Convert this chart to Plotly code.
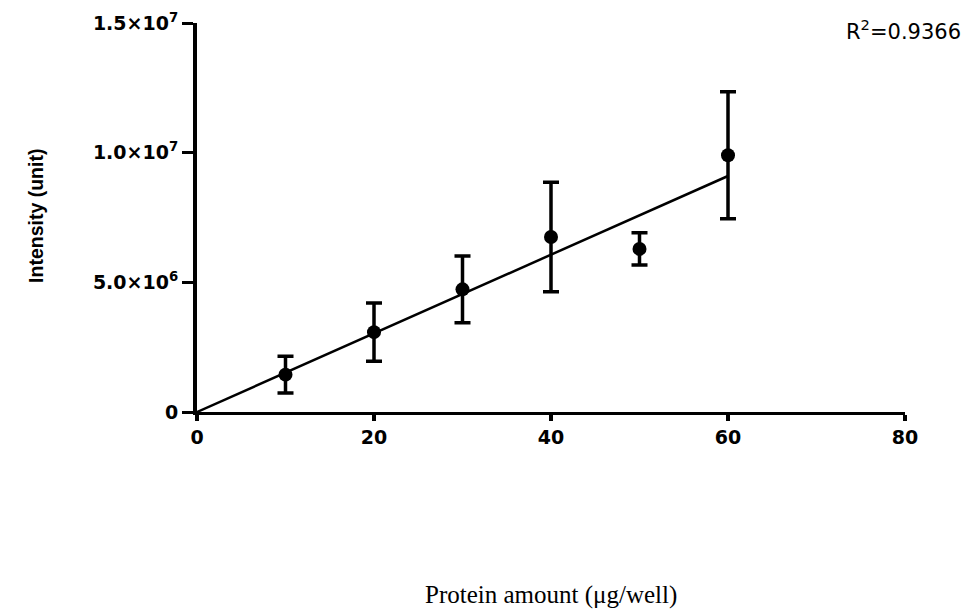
import plotly.graph_objects as go

protein_ug = [10, 20, 30, 40, 50, 60]
intensity = [1.44e6, 3.08e6, 4.73e6, 6.75e6, 6.29e6, 9.90e6]
sem = [0.71e6, 1.12e6, 1.29e6, 2.11e6, 0.62e6, 2.45e6]
fit_x = [0, 60]
fit_y = [0, 9.10e6]
r_squared = "0.9366"

x_ticks = [0, 20, 40, 60, 80]
y_ticks = [0, 5e6, 1e7, 1.5e7]
y_ticktext = ["0", "5.0×10<sup>6</sup>", "1.0×10<sup>7</sup>", "1.5×10<sup>7</sup>"]

fig = go.Figure()
fig.add_trace(go.Scatter(
    x=fit_x, y=fit_y, mode="lines",
    line=dict(color="black", width=2.5), showlegend=False, hoverinfo="skip"))
fig.add_trace(go.Scatter(
    x=protein_ug, y=intensity, mode="markers",
    marker=dict(color="black", size=14, symbol="circle"),
    error_y=dict(type="data", array=sem, color="black", thickness=3.5, width=8),
    showlegend=False))

tickfont = dict(family="DejaVu Sans, Arial, sans-serif", size=19, color="black", weight="bold")
fig.update_layout(
    width=966, height=602,
    margin=dict(l=189, r=69, t=15, b=198),
    plot_bgcolor="white", paper_bgcolor="white",
    xaxis=dict(range=[0, 80], tickvals=x_ticks, showgrid=False, zeroline=False,
               showline=True, linecolor="black", linewidth=2.5, automargin=False,
               ticks="outside", ticklen=6, tickwidth=4, tickcolor="black",
               tickfont=tickfont),
    yaxis=dict(range=[0, 1.5e7], tickvals=y_ticks, ticktext=y_ticktext,
               showgrid=False, zeroline=False, automargin=False,
               showline=True, linecolor="black", linewidth=4,
               ticks="outside", ticklen=11, tickwidth=2.5, tickcolor="black",
               tickfont=tickfont),
)
fig.add_annotation(
    text="<b>Intensity (unit)</b>", xref="paper", yref="paper",
    x=-0.2274, y=0.504, textangle=-90, showarrow=False,
    xanchor="center", yanchor="middle",
    font=dict(family="Liberation Sans, Arial, sans-serif", size=19.5, color="black"))
fig.add_annotation(
    text="Protein amount (μg/well)", xref="paper", yref="paper",
    x=0.5, y=-0.47, showarrow=False, yanchor="middle",
    font=dict(family="Liberation Serif, Times New Roman, serif", size=25, color="black"))
fig.add_annotation(
    text="R<sup>2</sup>=" + r_squared, xref="paper", yref="paper",
    x=1.082, y=0.982, xanchor="right", yanchor="middle", showarrow=False,
    font=dict(family="DejaVu Sans, Arial, sans-serif", size=21, color="black"))

fig.write_html("out.html")
